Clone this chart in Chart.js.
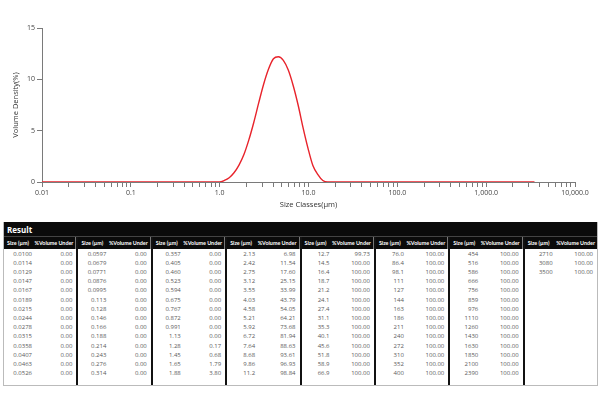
<!DOCTYPE html>
<html><head><meta charset="utf-8">
<script src="https://cdn.jsdelivr.net/npm/chart.js@4"></script>
<style>
html,body{margin:0;padding:0;background:#fff;width:600px;height:393px;overflow:hidden;font-family:"Open Sans",sans-serif;}
#chartBox{position:absolute;left:0;top:0;width:600px;height:215px;}
#res{position:absolute;left:3px;top:222px;width:595px;height:164px;border:1px solid #bbb;border-top:none;box-sizing:border-box;}
#res .ttl{height:15px;background:#0b0b0b;color:#fff;font-weight:700;font-size:8px;line-height:15px;padding-left:3px;border-bottom:1px solid #444;box-sizing:border-box;}
#cols{display:flex;height:148px;}
.grp{flex:1;border-right:2px solid #111;box-sizing:border-box;min-width:0;}
.grp:last-child{border-right:none;}
.hd{height:12px;background:#0b0b0b;color:#fff;font-family:Lato,"Open Sans",sans-serif;font-size:5.4px;font-weight:700;display:flex;align-items:center;justify-content:space-between;padding:0 2px 0 3px;white-space:nowrap;border-right:1px solid #777;}
.grp:last-child .hd{border-right:none;}
.r{display:flex;height:9.23px;line-height:9.23px;font-size:6px;color:#5a5a5a;}
.r .s{width:33px;text-align:right;padding-right:5px;box-sizing:border-box;}
.r .v{flex:1;text-align:right;padding-right:4px;}
.body{padding-top:0.5px;}
</style>
</head><body>
<div id="chartBox"><canvas id="c" width="600" height="215"></canvas></div>
<div id="res"><div class="ttl">Result</div><div id="cols"></div></div>
<script>
const sizeLabels = [
 "0.0100","0.0114","0.0129","0.0147","0.0167","0.0189","0.0215","0.0244","0.0278","0.0315","0.0358","0.0407","0.0463","0.0526",
 "0.0597","0.0679","0.0771","0.0876","0.0995","0.113","0.128","0.146","0.166","0.188","0.214","0.243","0.276","0.314",
 "0.357","0.405","0.460","0.523","0.594","0.675","0.767","0.872","0.991","1.13","1.28","1.45","1.65","1.88",
 "2.13","2.42","2.75","3.12","3.55","4.03","4.58","5.21","5.92","6.72","7.64","8.68","9.86","11.2",
 "12.7","14.5","16.4","18.7","21.2","24.1","27.4","31.1","35.3","40.1","45.6","51.8","58.9","66.9",
 "76.0","86.4","98.1","111","127","144","163","186","211","240","272","310","352","400",
 "454","516","586","666","756","859","976","1110","1260","1430","1630","1850","2100","2390",
 "2710","3080","3500"
];
const volumeUnder = [
 "0.00","0.00","0.00","0.00","0.00","0.00","0.00","0.00","0.00","0.00","0.00","0.00","0.00","0.00",
 "0.00","0.00","0.00","0.00","0.00","0.00","0.00","0.00","0.00","0.00","0.00","0.00","0.00","0.00",
 "0.00","0.00","0.00","0.00","0.00","0.00","0.00","0.00","0.00","0.00","0.17","0.68","1.79","3.80",
 "6.98","11.54","17.60","25.15","33.99","43.79","54.05","64.21","73.68","81.94","88.63","93.61","96.93","98.84",
 "99.73","100.00","100.00","100.00","100.00","100.00","100.00","100.00","100.00","100.00","100.00","100.00","100.00","100.00",
 "100.00","100.00","100.00","100.00","100.00","100.00","100.00","100.00","100.00","100.00","100.00","100.00","100.00","100.00",
 "100.00","100.00","100.00","100.00","100.00","100.00","100.00","100.00","100.00","100.00","100.00","100.00","100.00","100.00",
 "100.00","100.00","100.00"
];
const density = [
 0,0,0,0,0,0,0,0,0,0,0,0,0,0,
 0,0,0,0,0,0,0,0,0,0,0,0,0,0,
 0,0,0,0,0,0,0,0,0,0.15,0.42,0.9,1.65,2.7,
 4.1,5.8,7.7,9.5,11.0,12.0,12.2,11.85,10.9,9.4,7.5,5.3,3.3,1.6,
 0.75,0.15,0,0,0,0,0,0,0,0,0,0,0,0,
 0,0,0,0,0,0,0,0,0,0,0,0,0,0,
 0,0,0,0,0,0,0,0,0,0,0,0,0,0,
 0,0,0
];
const majorTicks = [0.01,0.1,1,10,100,1000,10000];
const majorTickLabels = ["0.01","0.1","1.0","10.0","100.0","1,000.0","10,000.0"];
const minorMultipliers = [1,2,3,4,5,6,7,8,9];
const yTicks = [0,5,10,15];
const rowsPerGroup = 14;

const sizes = sizeLabels.map(Number);
const tickValues = [];
for (let d = 0; d < majorTicks.length - 1; d++) {
  for (const m of minorMultipliers) tickValues.push(parseFloat((m * majorTicks[d]).toPrecision(4)));
}
tickValues.push(majorTicks[majorTicks.length - 1]);

// table
const cols = document.getElementById('cols');
const nGroups = Math.ceil(sizeLabels.length / rowsPerGroup);
for (let g = 0; g < nGroups; g++) {
  const grp = document.createElement('div'); grp.className = 'grp';
  let html = '<div class="hd"><span>Size (µm)</span><span>%Volume Under</span></div><div class="body">';
  for (let r = 0; r < rowsPerGroup; r++) {
    const i = g * rowsPerGroup + r;
    if (i >= sizeLabels.length) break;
    html += '<div class="r"><span class="s">' + sizeLabels[i] + '</span><span class="v">' + volumeUnder[i] + '</span></div>';
  }
  html += '</div>';
  grp.innerHTML = html;
  cols.appendChild(grp);
}

const font = {family: "'Open Sans', sans-serif", size: 7};
const titleFont = {family: "'Open Sans', sans-serif", size: 7.5};
new Chart(document.getElementById('c'), {
  type: 'line',
  data: {datasets: [{
    data: sizes.map((x, i) => ({x: x, y: density[i]})),
    borderColor: '#e8232b', borderWidth: 1.4, pointRadius: 0,
    cubicInterpolationMode: 'monotone', fill: false
  }]},
  options: {
    responsive: false, animation: false, devicePixelRatio: 1,
    layout: {padding: {top: 28, right: 25, left: 0, bottom: 0}},
    plugins: {legend: {display: false}, tooltip: {enabled: false}},
    scales: {
      x: {
        type: 'logarithmic', min: 0.01, max: 10000,
        afterBuildTicks: s => { s.ticks = tickValues.map(v => ({value: v})); },
        afterFit: s => { s.height = 33; },
        grid: {drawOnChartArea: false, drawTicks: true, tickLength: 5, color: '#7a7a7a', tickColor: '#7a7a7a'},
        border: {display: true, color: '#7a7a7a', width: 1},
        ticks: {autoSkip: false, maxRotation: 0, padding: 2, font: font, color: '#444',
          callback: function(v) {
            for (let k = 0; k < majorTicks.length; k++) {
              if (Math.abs(v - majorTicks[k]) < majorTicks[k] * 1e-6) return majorTickLabels[k];
            }
            return '';
          }},
        title: {display: true, text: 'Size Classes(µm)', font: titleFont, color: '#333', padding: {top: 0, bottom: 6}}
      },
      y: {
        min: 0, max: 15,
        afterBuildTicks: s => { s.ticks = yTicks.map(v => ({value: v})); },
        afterFit: s => { s.width = 42; },
        grid: {drawOnChartArea: false, drawTicks: true, tickLength: 5, color: '#7a7a7a', tickColor: '#7a7a7a'},
        border: {display: true, color: '#7a7a7a', width: 1},
        ticks: {padding: 2, font: font, color: '#444'},
        title: {display: true, text: 'Volume Density(%)', font: titleFont, color: '#333', padding: {top: 11, bottom: 0}}
      }
    }
  }
});
</script>
</body></html>
